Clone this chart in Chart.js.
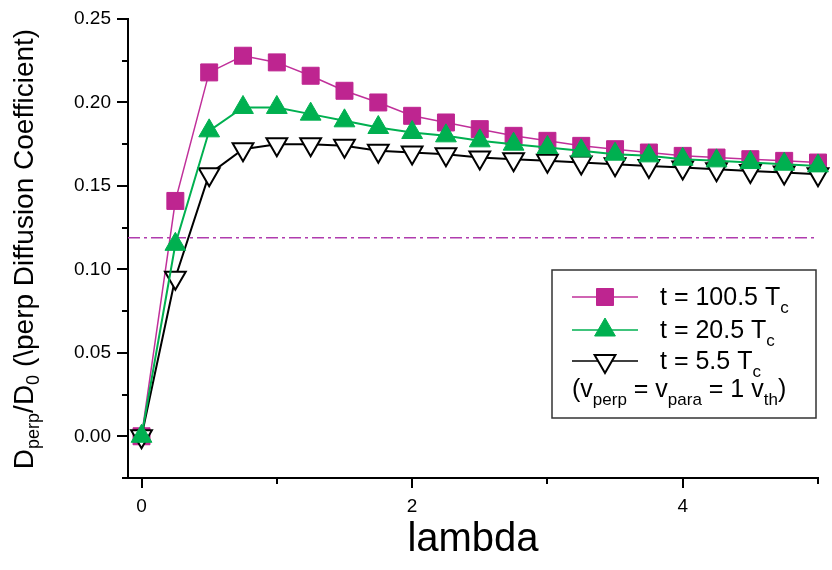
<!DOCTYPE html>
<html>
<head>
<meta charset="utf-8">
<script src="https://cdn.jsdelivr.net/npm/chart.js@4.4.0/dist/chart.umd.min.js"></script>
<style>
  html, body { margin: 0; padding: 0; background: #fff; }
  #wrap { position: relative; width: 832px; height: 570px; }
</style>
</head>
<body>
<div id="wrap"><canvas id="chart"></canvas></div>
<script>
// lambda values (x)
const lambdas = [0, 0.25, 0.5, 0.75, 1, 1.25, 1.5, 1.75, 2, 2.25, 2.5, 2.75, 3, 3.25, 3.5, 3.75, 4, 4.25, 4.5, 4.75, 5]

// D_perp / D_0 for each time
const d100 = [0, 0.141, 0.218, 0.228, 0.224, 0.216, 0.207, 0.200, 0.192, 0.188, 0.184, 0.180, 0.177, 0.174, 0.172, 0.170, 0.168, 0.167, 0.166, 0.165, 0.164]
const d20 = [0, 0.115, 0.183, 0.197, 0.197, 0.193, 0.189, 0.185, 0.182, 0.180, 0.177, 0.175, 0.173, 0.171, 0.169, 0.168, 0.166, 0.165, 0.164, 0.163, 0.162]
const d5 = [0, 0.095, 0.157, 0.172, 0.175, 0.175, 0.174, 0.171, 0.170, 0.169, 0.167, 0.166, 0.165, 0.164, 0.163, 0.162, 0.161, 0.160, 0.159, 0.158, 0.157]

// horizontal dash-dot reference level
const refLevel = 0.119

// axis ranges and ticks
const xRange = [-0.1, 5]
const yRange = [-0.025, 0.25]
const xTicks = [0, 1, 2, 3, 4, 5]
const xLabelled = [0, 2, 4]
const yTicks = [-0.025, 0, 0.025, 0.05, 0.075, 0.1, 0.125, 0.15, 0.175, 0.2, 0.225, 0.25]
const yLabelled = [0, 0.05, 0.1, 0.15, 0.2, 0.25]

// legend text, [text, isSubscript]
const legendNames = [
  [['t = 100.5 T', false], ['c', true]],
  [['t = 20.5 T', false], ['c', true]],
  [['t = 5.5 T', false], ['c', true]]
]
const legendNote = [['(v', false], ['perp', true], [' = v', false], ['para', true], [' = 1 v', false], ['th', true], [')', false]]
const yTitle = [['D', false], ['perp', true], ['/D', false], ['0', true], [' (\\perp Diffusion Coefficient)', false]]

const FONT = '"Liberation Sans", Arial, sans-serif'
Chart.defaults.font.family = FONT
Chart.defaults.color = '#000'

const pts = (ys) => lambdas.map((x, i) => ({ x, y: ys[i] }))
const near = (list, v) => list.some(l => Math.abs(l - v) < 1e-6)

function richWidth (ctx, parts, size, subSize) {
  let w = 0
  parts.forEach(([t, sub]) => {
    ctx.font = `${sub ? subSize : size}px ${FONT}`
    w += ctx.measureText(t).width
  })
  return w
}

function drawRich (ctx, parts, x, y, size, subSize, drop) {
  let cx = x
  parts.forEach(([t, sub]) => {
    ctx.font = `${sub ? subSize : size}px ${FONT}`
    ctx.fillText(t, cx, sub ? y + drop : y)
    cx += ctx.measureText(t).width
  })
}

const decorPlugin = {
  id: 'decor',
  afterDraw (chart) {
    const { ctx, chartArea, scales } = chart
    ctx.save()
    ctx.strokeStyle = '#000'
    ctx.lineWidth = 2

    // y ticks: major (labelled) longer than minor
    scales.y.ticks.forEach(t => {
      const len = near(yLabelled, t.value) ? 11 : 6
      const py = Math.round(scales.y.getPixelForValue(t.value))
      ctx.beginPath()
      ctx.moveTo(chartArea.left - len, py)
      ctx.lineTo(chartArea.left, py)
      ctx.stroke()
    })
    // x ticks
    scales.x.ticks.forEach(t => {
      const len = near(xLabelled, t.value) ? 10 : 6
      const px = Math.round(scales.x.getPixelForValue(t.value))
      ctx.beginPath()
      ctx.moveTo(px, chartArea.bottom)
      ctx.lineTo(px, chartArea.bottom + len)
      ctx.stroke()
    })

    // y axis title with subscripts
    ctx.fillStyle = '#000'
    ctx.textBaseline = 'alphabetic'
    const tw = richWidth(ctx, yTitle, 28, 18)
    ctx.save()
    ctx.translate(33, 249)
    ctx.rotate(-Math.PI / 2)
    drawRich(ctx, yTitle, -tw / 2, 0, 28, 18, 6)
    ctx.restore()

    // legend box
    ctx.strokeStyle = '#333'
    ctx.lineWidth = 1.5
    ctx.strokeRect(552, 270, 264, 148)
    const rows = [297, 330, 361]
    legendNames.forEach((parts, i) => {
      const ds = chart.data.datasets[i]
      const y = rows[i]
      ctx.strokeStyle = ds.borderColor
      ctx.lineWidth = 1.5
      ctx.beginPath()
      ctx.moveTo(572, y)
      ctx.lineTo(638, y)
      ctx.stroke()
      ctx.fillStyle = ds.pointBackgroundColor
      ctx.strokeStyle = ds.pointBorderColor
      ctx.lineWidth = ds.pointBorderWidth
      Chart.helpers.drawPoint(ctx, {
        pointStyle: ds.pointStyle,
        rotation: ds.pointRotation || 0,
        radius: ds.pointRadius,
        borderWidth: ds.pointBorderWidth
      }, 605, y)
      ctx.fillStyle = '#000'
      drawRich(ctx, parts, 660, y + 8, 25, 17, 8)
    })
    drawRich(ctx, legendNote, 572, 397, 25, 17, 8)
    ctx.restore()
  }
}

const config = {
  type: 'line',
  data: {
    datasets: [
      {
        label: 't = 100.5 Tc',
        data: pts(d100),
        borderColor: '#c0309a',
        borderWidth: 1.5,
        pointStyle: 'rect',
        pointRadius: 12,
        pointBackgroundColor: '#be2590',
        pointBorderColor: '#be2590',
        pointBorderWidth: 1,
        order: 3,
        clip: false
      },
      {
        label: 't = 20.5 Tc',
        data: pts(d20),
        borderColor: '#00b050',
        borderWidth: 2,
        pointStyle: 'triangle',
        pointRadius: 12,
        pointBackgroundColor: '#00b050',
        pointBorderColor: '#00b050',
        pointBorderWidth: 1,
        order: 1,
        clip: false
      },
      {
        label: 't = 5.5 Tc',
        data: pts(d5),
        borderColor: '#000',
        borderWidth: 2,
        pointStyle: 'triangle',
        pointRotation: 180,
        pointRadius: 12,
        pointBackgroundColor: '#fff',
        pointBorderColor: '#000',
        pointBorderWidth: 2,
        order: 2,
        clip: false
      },
      {
        label: 'reference',
        data: [{ x: xRange[0], y: refLevel }, { x: xRange[1], y: refLevel }],
        borderColor: '#b03cae',
        borderWidth: 1.5,
        borderDash: [12, 4, 3, 4],
        pointRadius: 0,
        order: 4
      }
    ]
  },
  options: {
    responsive: false,
    animation: false,
    layout: { padding: { left: 0, top: 19, right: 12, bottom: 0 } },
    scales: {
      x: {
        type: 'linear',
        min: xRange[0],
        max: xRange[1],
        afterBuildTicks: s => { s.ticks = xTicks.map(value => ({ value })) },
        ticks: {
          padding: 7,
          font: { size: 19 },
          callback: v => near(xLabelled, v) ? String(v) : ''
        },
        grid: { drawOnChartArea: false, tickLength: 10, tickColor: 'rgba(0,0,0,0)' },
        border: { display: true, color: '#000', width: 2 },
        title: { display: true, text: 'lambda', font: { size: 40 }, padding: { top: 0, bottom: 6 } },
        afterFit: s => { s.height = 92 }
      },
      y: {
        type: 'linear',
        min: yRange[0],
        max: yRange[1],
        afterBuildTicks: s => { s.ticks = yTicks.map(value => ({ value })) },
        ticks: {
          padding: 6,
          font: { size: 19 },
          callback: v => near(yLabelled, v) ? v.toFixed(2) : ''
        },
        grid: { drawOnChartArea: false, tickLength: 11, tickColor: 'rgba(0,0,0,0)' },
        border: { display: true, color: '#000', width: 2 },
        afterFit: s => { s.width = 128 }
      }
    },
    plugins: {
      legend: { display: false },
      tooltip: { enabled: false }
    }
  },
  plugins: [decorPlugin]
}

const $canvas = document.getElementById('chart')
$canvas.width = 832
$canvas.height = 570
new Chart($canvas.getContext('2d'), config) // eslint-disable-line
</script>
</body>
</html>
